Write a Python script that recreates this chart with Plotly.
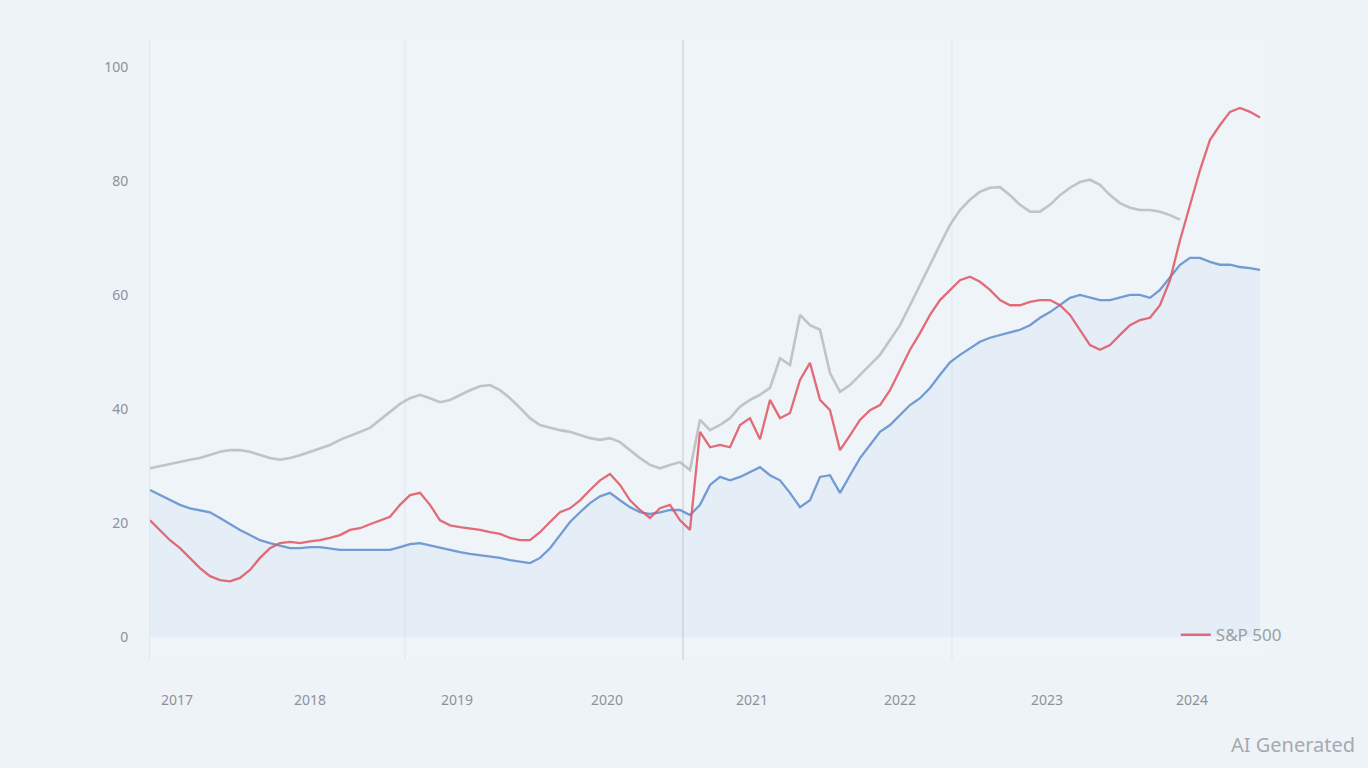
import plotly.graph_objects as go

# ---- data ----
x_index = list(range(112))

red_values = [20.5, 18.8, 17.0, 15.6, 13.9, 12.1, 10.7, 10.0, 9.8, 10.4,
              11.8, 13.9, 15.6, 16.5, 16.7, 16.5, 16.8, 17.0, 17.4, 17.9,
              18.8, 19.1, 19.8, 20.5, 21.1, 23.2, 24.9, 25.3, 23.2, 20.5,
              19.6, 19.3, 19.1, 18.8, 18.4, 18.1, 17.4, 17.0, 17.0, 18.4,
              20.2, 21.9, 22.6, 24.0, 25.8, 27.5, 28.6, 26.7, 24.0, 22.3,
              20.9, 22.6, 23.2, 20.5, 18.8, 36.0, 33.3, 33.7, 33.3, 37.2,
              38.4, 34.7, 41.6, 38.4, 39.3, 45.1, 48.1, 41.6, 39.8, 32.8,
              35.4, 38.1, 39.8, 40.7, 43.3, 46.8, 50.4, 53.3, 56.5, 59.1,
              60.9, 62.6, 63.2, 62.3, 60.9, 59.1, 58.2, 58.2, 58.8, 59.1,
              59.1, 58.2, 56.5, 53.9, 51.2, 50.4, 51.2, 53.0, 54.7, 55.6,
              56.0, 58.2, 62.6, 69.6, 75.8, 81.9, 87.2, 89.8, 92.1, 92.8,
              92.1, 91.1]

blue_values = [25.8, 24.9, 24.0, 23.2, 22.6, 22.3, 21.9, 20.9, 19.8, 18.8,
               17.9, 17.0, 16.5, 16.0, 15.6, 15.6, 15.8, 15.8, 15.6, 15.3,
               15.3, 15.3, 15.3, 15.3, 15.3, 15.8, 16.3, 16.5, 16.1, 15.6,
               15.3, 14.9, 14.6, 14.4, 14.2, 13.9, 13.5, 13.2, 13.0, 13.9,
               15.6, 17.9, 20.2, 21.9, 23.5, 24.7, 25.3, 24.0, 22.8, 21.9,
               21.6, 21.9, 22.3, 22.3, 21.4, 23.2, 26.7, 28.1, 27.5, 28.1,
               28.9, 29.8, 28.4, 27.5, 25.3, 22.8, 24.0, 28.1, 28.4, 25.3,
               28.4, 31.4, 33.7, 36.0, 37.2, 38.9, 40.7, 41.9, 43.7, 46.0,
               48.2, 49.5, 50.7, 51.8, 52.5, 53.0, 53.5, 53.9, 54.7, 56.0,
               57.0, 58.2, 59.5, 60.0, 59.6, 59.1, 59.1, 59.5, 60.0, 60.0,
               59.5, 60.9, 63.0, 65.3, 66.5, 66.5, 65.8, 65.3, 65.3, 64.9,
               64.7, 64.4]

gray_values = [29.6, 30.0, 30.4, 30.7, 31.1, 31.4, 31.9, 32.5, 32.8, 32.8,
               32.5, 31.9, 31.4, 31.1, 31.4, 31.9, 32.5, 33.2, 33.7, 34.6,
               35.3, 36.0, 36.7, 38.1, 39.5, 40.9, 41.9, 42.5, 41.9, 41.2,
               41.6, 42.5, 43.3, 44.0, 44.2, 43.3, 41.9, 40.2, 38.4, 37.2,
               36.7, 36.3, 36.0, 35.4, 34.9, 34.6, 34.9, 34.2, 32.8, 31.4,
               30.2, 29.6, 30.2, 30.7, 29.3, 38.1, 36.3, 37.2, 38.4, 40.4,
               41.6, 42.5, 43.7, 48.9, 47.7, 56.5, 54.7, 53.9, 46.3, 43.0,
               44.2, 46.0, 47.7, 49.5, 52.1, 54.7, 58.2, 61.8, 65.3, 68.8,
               72.3, 74.9, 76.7, 78.1, 78.8, 78.9, 77.5, 75.8, 74.6, 74.6,
               75.8, 77.5, 78.8, 79.8, 80.2, 79.3, 77.5, 76.1, 75.3, 74.9,
               74.9, 74.6, 74.0, 73.2, None, None, None, None, None, None,
               None, None]

x_tick_positions = [2.7, 16.0, 30.7, 45.7, 60.2, 75.0, 89.7, 104.2]
x_tick_labels = ["2017", "2018", "2019", "2020", "2021", "2022", "2023", "2024"]
y_tick_values = [0, 20, 40, 60, 80, 100]
y_tick_labels = ["0", "20", "40", "60", "80", "100"]
grid_positions = [25.5, 53.3, 80.2]

# ---- figure ----
fig = go.Figure()

fig.add_trace(go.Scatter(
    x=x_index, y=blue_values, mode="lines", name="Nasdaq",
    line=dict(color="rgba(92,140,205,0.85)", width=2.3),
    fill="tozeroy", fillcolor="rgba(120,160,220,0.08)",
    showlegend=False))

fig.add_trace(go.Scatter(
    x=x_index, y=gray_values, mode="lines", name="Dow",
    line=dict(color="rgba(180,182,186,0.8)", width=2.6),
    showlegend=False))

fig.add_trace(go.Scatter(
    x=x_index, y=red_values, mode="lines", name="S&P 500",
    line=dict(color="rgba(222,84,98,0.85)", width=2.3),
    showlegend=True))

for i, gx in enumerate(grid_positions):
    fig.add_vline(x=gx, line_width=1,
                  line_color="#c4c8ce" if i == 1 else "#e0e5ea",
                  layer="below")

fig.update_layout(
    width=1368, height=768,
    paper_bgcolor="#eef3f8",
    plot_bgcolor="#eff4f9",
    margin=dict(l=150, r=98, t=40, b=108),
    font=dict(family="Noto Sans, sans-serif", color="#8d9299", size=14),
    legend=dict(x=1.015, y=0.04, xanchor="right", yanchor="middle",
                bgcolor="rgba(0,0,0,0)", font=dict(size=17, color="#9a9ea5")),
    xaxis=dict(range=[0, 112], tickmode="array", tickvals=x_tick_positions,
               ticktext=x_tick_labels, showgrid=False, zeroline=False,
               showline=False, ticks="", ticklabelstandoff=30),
    yaxis=dict(range=[-4.0, 104.7], tickmode="array", tickvals=y_tick_values,
               ticktext=y_tick_labels, showgrid=False, zeroline=False,
               showline=True, linecolor="#e2e6eb", ticks="",
               ticklabelstandoff=18),
)

fig.add_annotation(text="AI Generated", xref="paper", yref="paper",
                   x=1.078, y=-0.137, xanchor="right", yanchor="middle",
                   showarrow=False, font=dict(size=20, color="#a6aab0"))

fig.write_html(
    "out.html",
    config={"displayModeBar": False},
    post_script="document.body.style.margin='0';document.body.style.overflow='hidden';"
)
